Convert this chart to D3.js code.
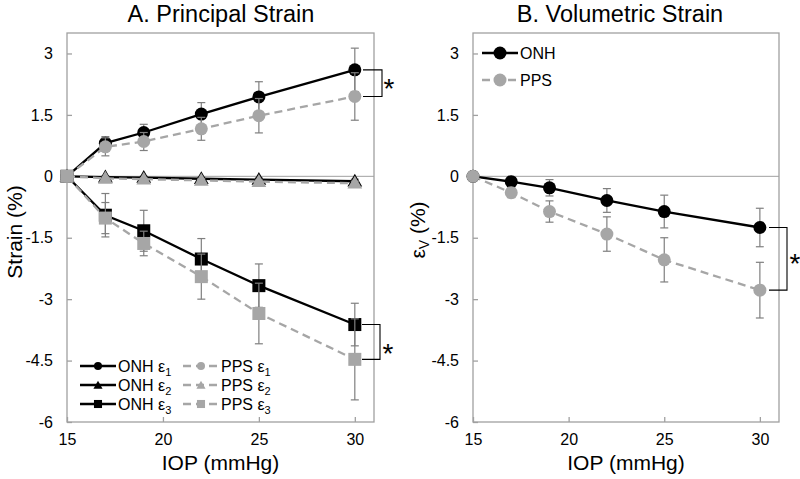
<!DOCTYPE html>
<html><head><meta charset="utf-8">
<script src="https://cdn.jsdelivr.net/npm/d3@7"></script>
<style>
body{margin:0;background:#fff;}
text{font-family:"Liberation Sans",Arial,sans-serif;}
</style></head>
<body><svg id="c" width="800" height="479"></svg>
<script>
// ---------- data ----------
const iop = [15, 17, 19, 22, 25, 30];
const xTicks = [15, 20, 25, 30];
const yTicks = [-6, -4.5, -3, -1.5, 0, 1.5, 3];

const onhE1 = [0, 0.81, 1.07, 1.52, 1.94, 2.60];
const onhE1Err = [0, 0.16, 0.20, 0.28, 0.37, 0.53];
const ppsE1 = [0, 0.72, 0.85, 1.16, 1.48, 1.95];
const ppsE1Err = [0, 0.22, 0.22, 0.28, 0.42, 0.58];

const onhE2 = [0, -0.02, -0.03, -0.06, -0.08, -0.12];
const onhE2Err = [0, 0.03, 0.03, 0.04, 0.04, 0.05];
const ppsE2 = [0, -0.05, -0.07, -0.10, -0.13, -0.17];
const ppsE2Err = [0, 0.03, 0.03, 0.04, 0.04, 0.05];

const onhE3 = [0, -0.95, -1.33, -2.02, -2.67, -3.62];
const onhE3Err = [0, 0.53, 0.50, 0.50, 0.53, 0.52];
const ppsE3 = [0, -1.02, -1.64, -2.45, -3.35, -4.47];
const ppsE3Err = [0, 0.38, 0.30, 0.55, 0.74, 0.99];

const onhV = [0, -0.13, -0.28, -0.59, -0.86, -1.25];
const onhVErr = [0, 0.10, 0.20, 0.29, 0.40, 0.47];
const ppsV = [0, -0.40, -0.86, -1.41, -2.04, -2.78];
const ppsVErr = [0, 0.12, 0.26, 0.42, 0.54, 0.68];

// ---------- styles ----------
const BLACK = "#000", GREY = "#a6a6a6", AXIS = "#a0a0a0", ERR = "#7f7f7f";
const svg = d3.select("#c");

function panel(opt){
  const x = d3.scaleLinear().domain([15, 31]).range([opt.x0, opt.x1]);
  const y = d3.scaleLinear().domain([-6, 3.5]).range([422, 33]);
  const g = svg.append("g");

  g.append("line").attr("x1", x(15)).attr("x2", x(31)).attr("y1", y(0)).attr("y2", y(0))
    .attr("stroke", AXIS).attr("stroke-width", 1);
  g.append("rect").attr("x", x(15)).attr("y", y(3.5)).attr("width", x(31)-x(15)).attr("height", y(-6)-y(3.5))
    .attr("fill", "none").attr("stroke", AXIS).attr("stroke-width", 1.3);

  const ya = g.append("g").attr("transform", `translate(${x(15)},0)`)
    .call(d3.axisLeft(y).tickValues(yTicks).tickSizeInner(-5).tickSizeOuter(0).tickPadding(14).tickFormat(d => String(d)));
  const xa = g.append("g").attr("transform", `translate(0,${y(-6)})`)
    .call(d3.axisBottom(x).tickValues(xTicks).tickSizeInner(-5).tickSizeOuter(0).tickPadding(12).tickFormat(d => String(d)));
  [ya, xa].forEach(a => {
    a.select(".domain").remove();
    a.selectAll("line").attr("stroke", AXIS).attr("stroke-width", 1.3);
    a.selectAll("text").attr("fill", "#000").style("font-size", "16px").style("font-family", '"Liberation Sans",Arial,sans-serif');
  });
  ya.selectAll("text").attr("x", -14);
  xa.selectAll("text").attr("y", 12);

  g.append("text").attr("x", opt.titleX).attr("y", 22).attr("text-anchor", "middle")
    .style("font-size", "23.5px").text(opt.title);
  g.append("text").attr("x", (x(15)+x(31))/2).attr("y", 470).attr("text-anchor", "middle")
    .style("font-size", "21px").text("IOP (mmHg)");
  return {g, x, y};
}

function series(p, vals, errs, o){
  const {g, x, y} = p;
  const pts = iop.map((v, i) => ({x: v, y: vals[i], e: errs[i]}));
  const eb = g.append("g").attr("stroke", ERR).attr("stroke-width", 1.2);
  pts.filter(d => d.e > 0).forEach(d => {
    eb.append("line").attr("x1", x(d.x)).attr("x2", x(d.x)).attr("y1", y(d.y + d.e)).attr("y2", y(d.y - d.e));
    [d.y + d.e, d.y - d.e].forEach(v => eb.append("line").attr("x1", x(d.x) - 4).attr("x2", x(d.x) + 4).attr("y1", y(v)).attr("y2", y(v)));
  });
  g.append("path").datum(pts)
    .attr("d", d3.line().x(d => x(d.x)).y(d => y(d.y)))
    .attr("fill", "none").attr("stroke", o.color).attr("stroke-width", 2.3)
    .attr("stroke-dasharray", o.dash ? "8,5" : null);
  return pts;
}

function marker(g, shape, cx, cy, color, s){
  if (shape === "circle") g.append("circle").attr("cx", cx).attr("cy", cy).attr("r", 6.5*s).attr("fill", color);
  else if (shape === "square") g.append("rect").attr("x", cx - 6.5*s).attr("y", cy - 6.5*s).attr("width", 13*s).attr("height", 13*s).attr("fill", color);
  else g.append("path").attr("d", d3.symbol(d3.symbolTriangle, 95*s*s)()).attr("transform", `translate(${cx},${cy+1})`).attr("fill", color);
}

function markers(p, pts, shape, color){
  pts.forEach(d => marker(p.g, shape, p.x(d.x), p.y(d.y), color, 1));
}

function legendRow(g, x0, y0, shape, color, dash, label, sub, s){
  g.append("line").attr("x1", x0).attr("x2", x0 + 36).attr("y1", y0).attr("y2", y0)
    .attr("stroke", color).attr("stroke-width", 2.3).attr("stroke-dasharray", dash ? "8,5" : null);
  marker(g, shape, x0 + 18, y0, color, s);
  const t = g.append("text").attr("x", x0 + 38).attr("y", y0 + 6).style("font-size", "16px").text(label);
  if (sub) t.append("tspan").attr("dy", 4).style("font-size", "11px").text(sub);
}

function bracket(g, xa, xb, ya, yb){
  g.append("path").attr("d", `M${xa},${ya}H${xb}V${yb}H${xa}`).attr("fill", "none").attr("stroke", "#000").attr("stroke-width", 1.1);
}

function star(g, cx, cy){
  g.append("text").attr("x", cx).attr("y", cy + 16).attr("text-anchor", "middle")
    .style("font-size", "28px").text("*");
}

// ---------- Panel A ----------
const A = panel({x0: 67, x1: 374, title: "A. Principal Strain", titleX: 221});
const a1 = series(A, onhE1, onhE1Err, {color: BLACK});
const a2 = series(A, onhE2, onhE2Err, {color: BLACK});
const a3 = series(A, onhE3, onhE3Err, {color: BLACK});
markers(A, a1, "circle", BLACK); markers(A, a2, "triangle", BLACK); markers(A, a3, "square", BLACK);
const b1 = series(A, ppsE1, ppsE1Err, {color: GREY, dash: true});
const b2 = series(A, ppsE2, ppsE2Err, {color: GREY, dash: true});
const b3 = series(A, ppsE3, ppsE3Err, {color: GREY, dash: true});
markers(A, b1, "circle", GREY); markers(A, b2, "triangle", GREY); markers(A, b3, "square", GREY);

A.g.append("text").attr("x", 15).attr("y", 232).attr("transform", "rotate(-90,15,232)")
  .attr("text-anchor", "middle").attr("dy", "0.35em").style("font-size", "21px").text("Strain (%)");

legendRow(A.g, 80, 366, "circle", BLACK, false, "ONH ε", "1", 0.62);
legendRow(A.g, 80, 385, "triangle", BLACK, false, "ONH ε", "2", 0.62);
legendRow(A.g, 80, 404, "square", BLACK, false, "ONH ε", "3", 0.62);
legendRow(A.g, 183, 366, "circle", GREY, true, "PPS ε", "1", 0.62);
legendRow(A.g, 183, 385, "triangle", GREY, true, "PPS ε", "2", 0.62);
legendRow(A.g, 183, 404, "square", GREY, true, "PPS ε", "3", 0.62);

bracket(A.g, 363, 382, A.y(onhE1[5]), A.y(ppsE1[5]));
star(A.g, 389, 82);
bracket(A.g, 362, 380, A.y(onhE3[5]), A.y(ppsE3[5]));
star(A.g, 388, 347);

// ---------- Panel B ----------
const B = panel({x0: 473, x1: 779, title: "B. Volumetric Strain", titleX: 620});
const c1 = series(B, onhV, onhVErr, {color: BLACK});
const c2 = series(B, ppsV, ppsVErr, {color: GREY, dash: true});
markers(B, c1, "circle", BLACK); markers(B, c2, "circle", GREY);

const yl = B.g.append("text").attr("x", 418).attr("y", 230).attr("transform", "rotate(-90,418,230)")
  .attr("text-anchor", "middle").attr("dy", "0.35em").style("font-size", "21px");
yl.append("tspan").text("ε");
yl.append("tspan").attr("dy", 4).style("font-size", "14px").text("V");
yl.append("tspan").attr("dy", -4).text(" (%)");

legendRow(B.g, 482, 53, "circle", BLACK, false, "ONH", null, 1);
legendRow(B.g, 482, 80, "circle", GREY, true, "PPS", null, 1);

bracket(B.g, 769, 787, B.y(onhV[5]), B.y(ppsV[5]));
star(B.g, 795, 257);
</script></body></html>
